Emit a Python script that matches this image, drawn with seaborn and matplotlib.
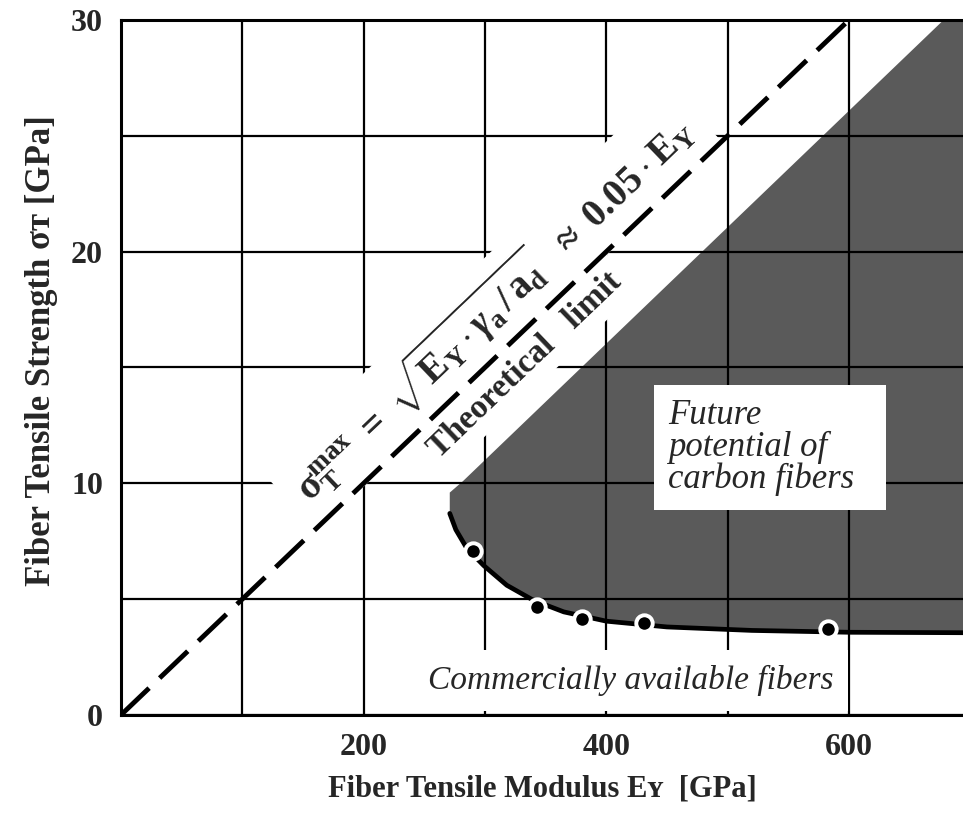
import numpy as np
import seaborn as sns
import matplotlib.pyplot as plt

# Theoretical limit line, sigma = 0.05 * E
limit_modulus = [0, 600]
limit_strength = [0, 30]

# Commercially available carbon fibers
fiber_modulus = [290, 343, 380, 431, 583]
fiber_strength = [7.08, 4.65, 4.16, 3.98, 3.71]

# Shaded "future potential" region: upper edge and lower (solid) edge
top_modulus = [271, 282, 678, 700]
top_strength = [9.6, 10.1, 30, 30]
edge_modulus = [271, 276, 285, 299, 318, 340, 365, 400, 450, 520, 600, 700]
edge_strength = [8.7, 8.0, 7.2, 6.45, 5.6, 4.95, 4.45, 4.05, 3.8, 3.65, 3.57, 3.55]

x_ticks = [200, 400, 600]
x_grid = [100, 300, 500]
y_ticks = [0, 10, 20, 30]
y_grid = [5, 15, 25]

sns.set_style('white')
plt.rcParams['font.family'] = ['Liberation Serif', 'DejaVu Serif']
plt.rcParams['font.weight'] = 'bold'
plt.rcParams['mathtext.fontset'] = 'custom'
plt.rcParams['mathtext.rm'] = 'Liberation Serif:bold'
plt.rcParams['mathtext.it'] = 'Liberation Serif:italic:bold'
plt.rcParams['mathtext.bf'] = 'Liberation Serif:bold'

fig, ax = plt.subplots(figsize=(9.63, 8.16), dpi=100)
fig.subplots_adjust(left=0.1256, right=1.0, bottom=0.1238, top=0.9755)

ax.set_xlim(0, 694)
ax.set_ylim(0, 30)

# shaded region
ax.fill(top_modulus + edge_modulus[::-1], top_strength + edge_strength[::-1],
        color='#5a5a5a', lw=0, zorder=1)

# grid
ax.set_xticks(x_ticks)
ax.set_xticks(x_grid, minor=True)
ax.set_yticks(y_ticks)
ax.set_yticks(y_grid, minor=True)
ax.set_axisbelow(False)
ax.grid(which='both', color='black', lw=1.6)
ax.tick_params(which='both', length=0, labelsize=23, pad=13)

for side in ['left', 'bottom', 'top']:
    ax.spines[side].set_color('black')
    ax.spines[side].set_linewidth(2.2)
ax.spines['right'].set_visible(False)

# theoretical limit
sns.lineplot(x=limit_modulus, y=limit_strength, ax=ax, color='black', lw=3.5,
             linestyle=(0, (8, 3)), zorder=6)

# lower boundary + fibers
sns.lineplot(x=edge_modulus, y=edge_strength, ax=ax, color='black', lw=3.4,
             sort=False, zorder=6)
sns.scatterplot(x=fiber_modulus, y=fiber_strength, ax=ax, s=140, color='black',
                edgecolor='white', linewidth=2.8, zorder=7)

# angle of the limit line on screen
p0 = ax.transData.transform((0, 0))
p1 = ax.transData.transform((600, 30))
angle = np.degrees(np.arctan2(p1[1] - p0[1], p1[0] - p0[0]))

formula = (r'$\mathrm{\sigma}_{\mathrm{T}}^{\mathrm{max}}\ =\ '
           r'\sqrt{\mathrm{E_Y}\cdot\gamma_{\mathrm{a}}\,/\,\mathrm{a_d}}'
           r'\ \ \approx\ 0.05\cdot\mathrm{E_Y}$')
ax.text(306, 17.6, formula, rotation=angle, rotation_mode='anchor',
        ha='center', va='center', fontsize=28,
        bbox=dict(boxstyle='square,pad=0.35', fc='white', ec='none'), zorder=4)
ax.text(333, 15.1, 'Theoretical   limit', rotation=angle, rotation_mode='anchor',
        ha='center', va='center', fontsize=24, fontweight='bold',
        bbox=dict(boxstyle='square,pad=0.25', fc='white', ec='none'), zorder=4)

ax.text(451, 11.53, 'Future\npotential of\ncarbon fibers  ', ha='left', va='center',
        fontsize=25, style='italic', fontweight='normal', linespacing=0.95,
        bbox=dict(boxstyle='square,pad=0.4', fc='white', ec='none'), zorder=4)
ax.text(420, 1.5, 'Commercially available fibers', ha='center', va='center',
        fontsize=24, style='italic', fontweight='normal',
        bbox=dict(boxstyle='square,pad=0.45', fc='white', ec='none'), zorder=4)

ax.set_xlabel('Fiber Tensile Modulus Eʏ  [GPa]', fontsize=22, fontweight='bold')
ax.set_ylabel('Fiber Tensile Strength σᴛ [GPa]', fontsize=25, fontweight='bold')
ax.xaxis.set_label_coords(0.5, -0.086)
ax.yaxis.set_label_coords(-0.075, 0.525)

fig.savefig('out.png', dpi=100)
